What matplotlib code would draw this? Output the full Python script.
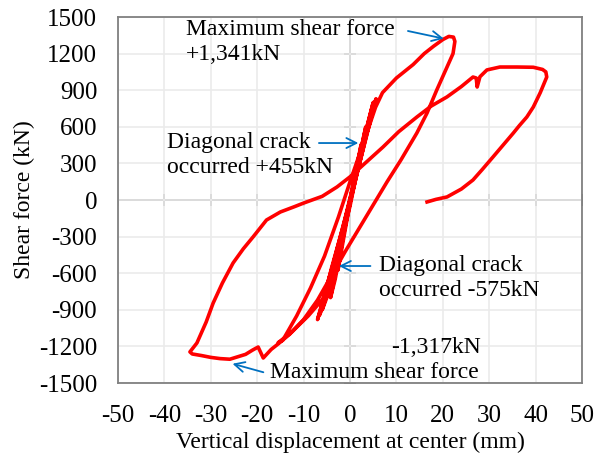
import numpy as np
import matplotlib.pyplot as plt

plt.rcParams['font.family'] = ['Liberation Serif', 'DejaVu Serif']
plt.rcParams['axes.unicode_minus'] = False

# displacement (mm) and shear force (kN), traced in loading order
disp = [0, 1.2, 2.4, 1.3, 0, -1.5, -2.6, -1.4, 0.2,
        1.8, 3.4, 2.2, 0.5, -1.2, -3.2, -4.2, -2.5, -0.8,
        1.5, 3.5, 5.0, 3.8, 2.0, 0.0, -2.5, -4.5, -6.0, -4.0, -1.5,
        1.0, 3.0, 4.6, 2.6, 0.4, -2.0, -5.0, -7.0, -5.2, -2.8, -0.5,
        2.0, 4.2, 5.6, 4.4, 2.4, 0.8, -1.5, -4.0, -6.5, -4.6, -2.0,
        0.6, 2.8, 4.8, 3.2, 1.2, -1.0, -3.6, -5.6, -9.0, -12.5, -15.5, -14.5,
        -11.5, -8.5, -5.5, -2.5, 0.0, 3.0, 5.5, 7.0, 10.0, 13.6, 16.0,
        18.0, 20.0, 21.3, 22.3, 22.6, 22.2, 20.9, 18.7, 16.6, 14.4, 11.0,
        8.0, 5.0, 2.0, -1.0, -4.0, -7.0, -10.0, -13.0, -15.5, -17.0,
        -18.7, -19.8, -21.0, -22.5, -25.9, -28.0, -30.0, -32.0, -34.0,
        -34.5, -33.0, -31.0, -29.5, -27.5, -25.2, -23.0, -20.9, -18.0,
        -15.0, -12.0, -10.0, -6.0, -2.8, 0.0, 3.5, 7.1, 10.5, 14.4,
        17.5, 20.9, 24.0, 26.5, 27.2, 27.4, 28.0, 29.5, 32.3, 36.0,
        39.5, 41.5, 42.2, 42.4, 41.0, 39.5, 38.1, 36.5, 35.2, 33.0,
        30.8, 28.5, 26.5, 24.0, 20.9, 18.5, 16.6]
force = [0, 200, 455, 250, 0, -300, -575, -320, 20,
         320, 600, 380, 80, -250, -650, -800, -480, -150,
         250, 580, 800, 620, 320, -50, -430, -750, -900, -650, -250,
         150, 480, 720, 420, 60, -320, -700, -980, -760, -420, -90,
         290, 620, 830, 660, 360, 120, -220, -560, -940, -700, -330,
         70, 420, 760, 520, 200, -140, -520, -800, -950, -1080, -1170, -1150,
         -950, -720, -460, -140, 150, 480, 760, 880, 1000, 1110, 1200,
         1260, 1315, 1341, 1335, 1300, 1200, 1090, 902, 713, 549, 330,
         150, -40, -230, -420, -620, -820, -980, -1100, -1180, -1225,
         -1295, -1205, -1230, -1265, -1305, -1300, -1290, -1275, -1262,
         -1245, -1172, -1000, -845, -680, -516, -400, -303, -164,
         -98, -55, -25, 30, 107, 190, 310, 434, 560, 680,
         770, 845, 930, 1008, 1000, 926, 1010, 1066, 1090, 1090,
         1088, 1070, 1050, 1008, 880, 762, 680, 610, 549, 450,
         352, 250, 164, 90, 25, 5, -16]

xticks = np.arange(-50, 51, 10)
yticks = np.arange(-1500, 1501, 300)

fig = plt.figure(figsize=(6.04, 4.57), dpi=100)
ax = fig.add_axes([0.1954, 0.1619, 0.7682, 0.8009])

ax.grid(True, color='#ebebeb', linewidth=1.2, zorder=0)
ax.axhline(0, color='#808080', linewidth=1.3, zorder=1)
ax.axvline(0, color='#808080', linewidth=1.3, zorder=1)
ax.plot(xticks, np.zeros(len(xticks)), linestyle='none', marker='|',
        markersize=9, markeredgewidth=1.3, color='#808080', zorder=1)
ax.plot(np.zeros(len(yticks)), yticks, linestyle='none', marker='_',
        markersize=9, markeredgewidth=1.3, color='#808080', zorder=1)

ax.plot(disp, force, color='red', linewidth=2.6, zorder=3)

ax.set_xlim(-50, 50)
ax.set_ylim(-1500, 1500)
ax.set_xticks(xticks)
ax.set_yticks(yticks)
ax.tick_params(length=0, labelsize=18, pad=15)
ax.tick_params(axis='x', pad=16)
for s in ax.spines.values():
    s.set_color('#808080')
    s.set_linewidth(1.3)

ax.set_xlabel('Vertical displacement at center (mm)', fontsize=17, labelpad=3)
ax.set_ylabel('Shear force (kN)', fontsize=17, labelpad=3)

arr = dict(arrowstyle='->', color='#0070c0', lw=1.3, mutation_scale=18)
fs = 17
ax.text(-35.3, 1295, 'Maximum shear force\n+1,341kN', fontsize=fs,
        va='center', ha='left', linespacing=1.25)
ax.annotate('', xy=(20.8, 1318), xytext=(11.9, 1390), arrowprops=arr)

ax.text(-39.4, 369, 'Diagonal crack\noccurred +455kN', fontsize=fs,
        va='center', ha='left', linespacing=1.2)
ax.annotate('', xy=(2.4, 467), xytext=(-7.3, 467), arrowprops=arr)

ax.text(6.2, -639, 'Diagonal crack\noccurred -575kN', fontsize=fs,
        va='center', ha='left', linespacing=1.2)
ax.annotate('', xy=(-3.0, -541), xytext=(5.0, -541), arrowprops=arr)

ax.text(8.8, -1205, '-1,317kN', fontsize=fs, va='center', ha='left')
ax.text(-17.2, -1415, 'Maximum shear force', fontsize=fs, va='center', ha='left')
ax.annotate('', xy=(-25.9, -1336), xytext=(-18.1, -1418), arrowprops=arr)

fig.savefig('out.png', dpi=100)
